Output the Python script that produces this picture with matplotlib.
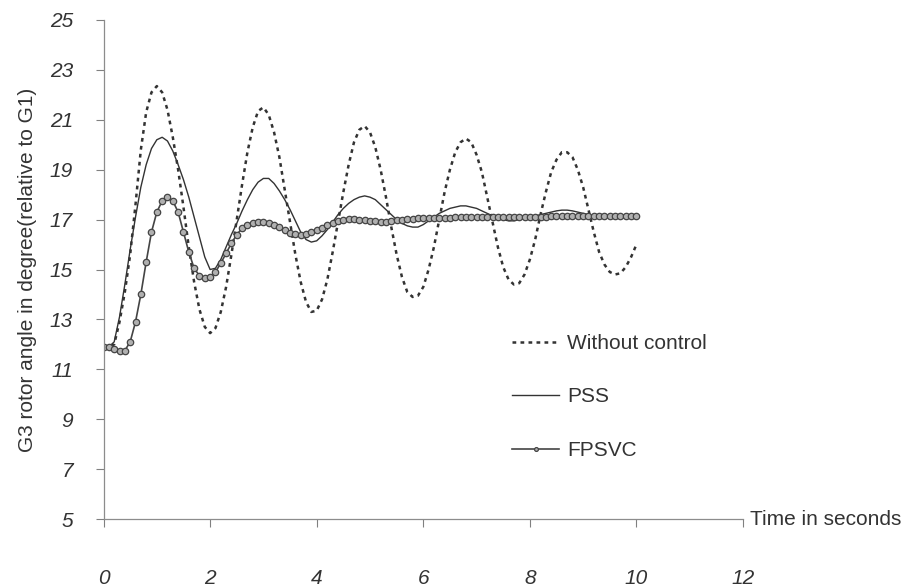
import numpy as np
import matplotlib
matplotlib.use("Agg")
import matplotlib.pyplot as plt

# Simulation time (s), sampled every 0.1 s
time_s = np.round(np.arange(0, 10.01, 0.1), 1)

# G3 rotor angle (degrees, relative to G1)
without_control = [
    11.9, 11.9, 12.0, 12.9, 14.1, 15.6, 17.6, 19.8, 21.3, 22.1,
    22.35, 22.1, 21.4, 20.3, 19.0, 17.5, 15.9, 14.5, 13.4, 12.7,
    12.45, 12.65, 13.3, 14.3, 15.6, 17.0, 18.4, 19.7, 20.7, 21.35,
    21.5, 21.2, 20.5, 19.5, 18.2, 16.9, 15.6, 14.5, 13.7, 13.3,
    13.35, 13.8, 14.6, 15.7, 16.9, 18.1, 19.2, 20.1, 20.6, 20.75,
    20.5, 19.9, 19.0, 17.9, 16.7, 15.6, 14.7, 14.1, 13.9, 13.95,
    14.3, 15.0, 15.9, 17.0, 18.1, 19.0, 19.7, 20.1, 20.25, 20.1,
    19.6, 18.9, 17.9, 16.9, 15.9, 15.1, 14.6, 14.4, 14.45, 14.8,
    15.4, 16.2, 17.2, 18.1, 18.9, 19.4, 19.7, 19.7, 19.5, 19.0,
    18.3, 17.4, 16.5, 15.7, 15.2, 14.9, 14.8, 14.85, 15.1, 15.5,
    16.0,
]

pss = [
    11.9, 11.9, 12.1, 13.1, 14.4, 15.8, 17.1, 18.3, 19.2, 19.85,
    20.2, 20.3, 20.15, 19.75, 19.2, 18.6, 17.9, 17.1, 16.3, 15.5,
    15.0, 15.05, 15.4, 15.9, 16.4, 16.85, 17.35, 17.8, 18.2, 18.5,
    18.65, 18.65, 18.45, 18.15, 17.8, 17.4, 16.95, 16.5, 16.2, 16.1,
    16.15, 16.35, 16.6, 16.9, 17.2, 17.45, 17.65, 17.8, 17.9, 17.95,
    17.9, 17.8, 17.6, 17.4, 17.2, 17.0, 16.85, 16.75, 16.7, 16.7,
    16.8, 16.95, 17.1, 17.25, 17.35, 17.45, 17.5, 17.55, 17.55, 17.5,
    17.45, 17.35, 17.25, 17.15, 17.05, 17.0, 16.95, 16.95, 17.0, 17.05,
    17.1, 17.15, 17.2, 17.25, 17.3, 17.35, 17.38, 17.38, 17.35, 17.3,
    17.25, 17.2, 17.15, 17.12, 17.1, 17.1, 17.12, 17.15, 17.17, 17.2,
    17.2,
]

fpsvc = [
    11.9, 11.88, 11.8, 11.72, 11.75, 12.1, 12.9, 14.0, 15.3, 16.5,
    17.3, 17.75, 17.9, 17.75, 17.3, 16.5, 15.7, 15.05, 14.75, 14.65,
    14.7, 14.9, 15.25, 15.65, 16.05, 16.4, 16.65, 16.8, 16.88, 16.92,
    16.92, 16.88, 16.8, 16.7, 16.58, 16.48, 16.42, 16.4, 16.42, 16.5,
    16.58, 16.68, 16.78, 16.88, 16.95, 17.0, 17.02, 17.02, 17.0, 16.98,
    16.95, 16.93, 16.92, 16.92, 16.94, 16.97, 17.0, 17.02, 17.04, 17.05,
    17.06, 17.06, 17.07, 17.07, 17.08, 17.08, 17.09, 17.09, 17.1, 17.1,
    17.1, 17.1, 17.1, 17.1, 17.1, 17.1, 17.1, 17.11, 17.11, 17.11,
    17.12, 17.12, 17.12, 17.12, 17.13, 17.13, 17.13, 17.13, 17.14, 17.14,
    17.14, 17.14, 17.14, 17.15, 17.15, 17.15, 17.15, 17.15, 17.16, 17.16,
    17.16,
]

x_ticks = [0, 2, 4, 6, 8, 10, 12]
y_ticks = [5, 7, 9, 11, 13, 15, 17, 19, 21, 23, 25]

ink = "#333333"
fs = 15
plt.rcParams["font.family"] = ["Liberation Sans", "DejaVu Sans"]

fig = plt.figure(figsize=(9.05, 5.88), dpi=100)
ax = fig.add_axes([0.1144, 0.1173, 0.821 - 0.1144, 0.966 - 0.1173])

ax.plot(time_s, without_control, color=ink, lw=1.8,
        linestyle=(0, (1.5, 1.7)), label="Without control")
ax.plot(time_s, pss, color=ink, lw=1.0, label="PSS")
ax.plot(time_s, fpsvc, color="#444444", lw=1.2, marker="o", markersize=4.6,
        markerfacecolor="#b0b0b0", markeredgecolor="#444444",
        markeredgewidth=0.9, label="FPSVC")

ax.set_xlim(0, 12)
ax.set_ylim(5, 25)
ax.set_xticks(x_ticks)
ax.set_yticks(y_ticks)
ax.set_xticklabels([str(v) for v in x_ticks], fontstyle="italic",
                   fontsize=fs, color=ink)
ax.set_yticklabels([str(v) for v in y_ticks], fontstyle="italic",
                   fontsize=fs, color=ink)
ax.tick_params(axis="x", direction="out", length=6, width=0.8,
               color="#808080", pad=30)
ax.tick_params(axis="y", direction="out", length=6, width=0.8,
               color="#808080", pad=16)

for side in ("top", "right"):
    ax.spines[side].set_visible(False)
for side in ("left", "bottom"):
    ax.spines[side].set_color("#8c8c8c")
    ax.spines[side].set_linewidth(0.9)

ax.set_ylabel("G3 rotor angle in degree(relative to G1)", fontsize=fs,
              color=ink, labelpad=9)

ax.annotate("Time in seconds", xy=(12, 5), xycoords="data",
            xytext=(5, 0), textcoords="offset points",
            ha="left", va="center", fontsize=fs, color=ink,
            annotation_clip=False)

ax.legend(loc="center left", bbox_to_anchor=(512 / 905, 1 - 397 / 588),
          bbox_transform=fig.transFigure, frameon=False, fontsize=fs,
          handlelength=2.26, handletextpad=0.38, labelspacing=1.65,
          borderpad=0, borderaxespad=0, labelcolor=ink, numpoints=1,
          markerscale=0.6)

fig.savefig("out.png", dpi=100)
